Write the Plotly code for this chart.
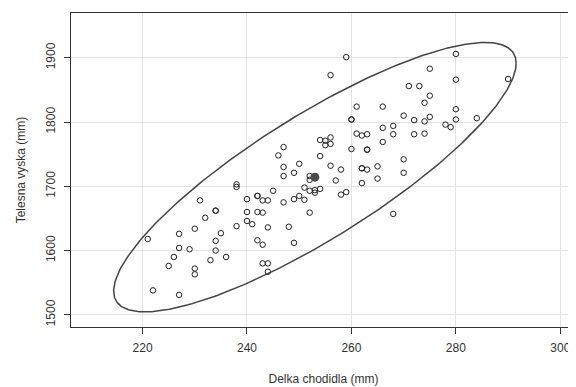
import numpy as np
import plotly.graph_objects as go

# Foot length (mm)
delka = [247, 250, 247, 249, 252, 252, 256, 257, 238, 238, 251, 252, 253, 254, 253, 245, 258,
         242, 242, 240, 243, 244, 250, 251, 249, 247, 231, 234, 234, 240, 242, 243, 252, 232,
         240, 241, 238, 230, 244, 248, 227, 235, 221, 234, 242, 243, 249, 227, 229, 234, 226,
         236, 233, 225, 230, 230, 243, 244, 244, 222, 227, 256, 254, 255, 256, 255, 256, 247,
         246, 254, 259, 280, 275, 280, 290, 271, 273, 275, 274, 261, 266, 270, 260, 260, 272,
         274, 275, 280, 280, 284, 278, 279, 261, 262, 263, 266, 268, 268, 272, 274, 260, 263,
         263, 266, 270, 258, 262, 262, 263, 265, 262, 265, 270, 259, 268]
# Body height (mm)
vyska = [1730, 1735, 1716, 1721, 1716, 1710, 1732, 1709, 1703, 1699, 1698, 1693, 1694, 1696, 1690, 1693, 1687,
         1685, 1685, 1680, 1678, 1678, 1685, 1679, 1680, 1675, 1678, 1662, 1662, 1660, 1660, 1659, 1659, 1651,
         1646, 1641, 1638, 1634, 1636, 1637, 1626, 1627, 1618, 1615, 1616, 1609, 1612, 1604, 1602, 1600, 1590,
         1590, 1585, 1576, 1572, 1563, 1580, 1580, 1567, 1538, 1531, 1873, 1772, 1771, 1776, 1764, 1766, 1761,
         1748, 1747, 1901, 1906, 1883, 1866, 1867, 1856, 1856, 1841, 1830, 1824, 1824, 1810, 1804, 1804, 1803,
         1801, 1808, 1820, 1804, 1806, 1796, 1792, 1782, 1779, 1781, 1791, 1794, 1781, 1781, 1782, 1758, 1757,
         1757, 1769, 1742, 1726, 1728, 1728, 1726, 1731, 1705, 1712, 1721, 1691, 1657]

x_ticks = [220, 240, 260, 280, 300]
y_ticks = [1500, 1600, 1700, 1800, 1900]
x_title = "Delka chodidla (mm)"
y_title = "Telesna vyska (mm)"
conf_scale = 2.4477  # sqrt of chi2(0.95, df=2)

X = np.array(delka, dtype=float)
Y = np.array(vyska, dtype=float)
mx, my = X.mean(), Y.mean()
cov = np.cov(np.vstack([X, Y]))
L = np.linalg.cholesky(cov)
t = np.linspace(0, 2 * np.pi, 400)
circ = np.vstack([np.cos(t), np.sin(t)]) * conf_scale
ell = L @ circ
ex = ell[0] + mx
ey = ell[1] + my

fig = go.Figure()
fig.add_trace(go.Scatter(x=ex, y=ey, mode="lines",
                         line=dict(color="#444444", width=1.5), hoverinfo="skip", showlegend=False))
fig.add_trace(go.Scatter(x=delka, y=vyska, mode="markers",
                         marker=dict(symbol="circle-open", size=5.5, color="#222222", line=dict(width=1)),
                         showlegend=False))
fig.add_trace(go.Scatter(x=[mx], y=[my], mode="markers",
                         marker=dict(symbol="circle", size=9, color="#4a4a4a"), showlegend=False))

axis_font = dict(family="Liberation Sans, Arial, sans-serif", size=12, color="#333333")
fig.update_layout(
    width=576, height=387,
    margin=dict(l=63, r=8, t=5, b=68),
    paper_bgcolor="white", plot_bgcolor="white",
    font=axis_font,
    xaxis=dict(range=[206.3, 303.0], tickvals=x_ticks, ticks="outside", ticklen=6,
               tickcolor="#333333", showline=True, linecolor="#333333", linewidth=1,
               mirror=True, showgrid=True, gridcolor="#e3e3e3", gridwidth=1, zeroline=False,
               automargin=False, ticklabelstandoff=4,
               title=dict(text=x_title, standoff=20, font=axis_font), tickfont=axis_font),
    yaxis=dict(range=[1481.0, 1969.7], tickvals=y_ticks, ticks="outside", ticklen=6,
               tickcolor="#333333", showline=True, linecolor="#333333", linewidth=1,
               showgrid=True, gridcolor="#e3e3e3", gridwidth=1, zeroline=False, tickangle=-90,
               automargin=False, ticklabelstandoff=4,
               title=dict(text=y_title, standoff=16, font=axis_font), tickfont=axis_font),
)
fig.write_html("out.html")
